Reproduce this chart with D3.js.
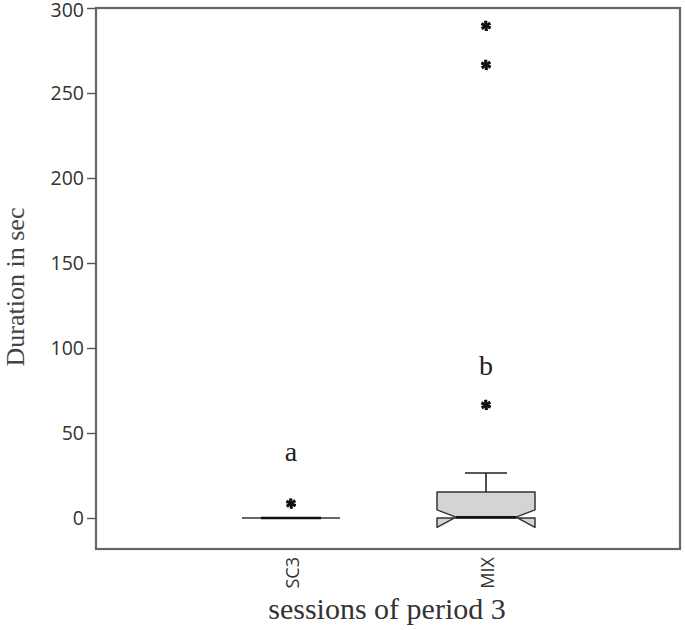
<!DOCTYPE html>
<html><head><meta charset="utf-8">
<script src="https://cdn.jsdelivr.net/npm/d3@7"></script>
<style>body{margin:0;background:#fff;}svg{display:block;}</style>
</head><body>
<svg id="c" width="685" height="630"></svg>
<script>
const categories = ["SC3", "MIX"];
const q1Values = [0, 0];
const medianValues = [0, 0.5];
const q3Values = [0, 15.3];
const whiskerLow = [0, 0];
const whiskerHigh = [0, 26.5];
const notchLow = [0, -5.5];
const notchHigh = [0, 4.8];
const outliers = [[8.5], [289.5, 266.5, 66.5]];
const groupLetters = ["a", "b"];
const letterValues = [38, 89];
const yTicks = [0, 50, 100, 150, 200, 250, 300];

const svg = d3.select("#c");
const L = 96, R = 680, T = 8, B = 549;
const y = d3.scaleLinear().domain([0, 300]).range([518, 8]);
const x = d3.scalePoint().domain(categories).range([291, 486]);
const boxW = 98, notchW = 60;

// frame
svg.append("rect").attr("x", L).attr("y", T).attr("width", R - L).attr("height", B - T)
  .attr("fill", "none").attr("stroke", "#666").attr("stroke-width", 2.2);

// y axis
const ya = svg.append("g").attr("transform", `translate(${L},0)`)
  .call(d3.axisLeft(y).tickValues(yTicks).tickSize(9).tickPadding(3));
ya.select(".domain").remove();
ya.selectAll("line").attr("stroke", "#555").attr("stroke-width", 1.4);
ya.selectAll("text").attr("font-family", "Open Sans, sans-serif").attr("font-size", 19.5).attr("fill", "#333")
  .attr("dy", (d) => d === 300 ? "0.44em" : "0.34em");

// x tick labels
categories.forEach((c) => {
  svg.append("text").attr("transform", `translate(${x(c) + 2},557) rotate(-90)`)
    .attr("text-anchor", "end").attr("dy", "0.35em")
    .attr("font-family", "Open Sans, sans-serif").attr("font-size", 18).attr("fill", "#333").text(c);
});

// axis titles
svg.append("text").attr("x", 387).attr("y", 619).attr("text-anchor", "middle")
  .attr("font-family", "Liberation Serif, serif").attr("font-size", 30).attr("fill", "#333")
  .text("sessions of period 3");
svg.append("text").attr("transform", "translate(24,287) rotate(-90)").attr("text-anchor", "middle")
  .attr("font-family", "Liberation Serif, serif").attr("font-size", 26).attr("fill", "#444")
  .text("Duration in sec");

// boxes
categories.forEach((c, i) => {
  const cx = x(c), l = cx - boxW / 2, r = cx + boxW / 2, nl = cx - notchW / 2, nr = cx + notchW / 2;
  const g = svg.append("g");
  if (whiskerHigh[i] > q3Values[i]) {
    g.append("line").attr("x1", cx).attr("x2", cx).attr("y1", y(q3Values[i])).attr("y2", y(whiskerHigh[i]))
      .attr("stroke", "#222").attr("stroke-width", 1.6);
    g.append("line").attr("x1", cx - 21).attr("x2", cx + 21).attr("y1", y(whiskerHigh[i])).attr("y2", y(whiskerHigh[i]))
      .attr("stroke", "#222").attr("stroke-width", 1.6);
  }
  if (q3Values[i] > q1Values[i]) {
    const pts = [[l, y(q3Values[i])], [r, y(q3Values[i])], [r, y(notchHigh[i])], [nr, y(medianValues[i])],
      [r, y(notchLow[i])], [r, y(q1Values[i])], [l, y(q1Values[i])], [l, y(notchLow[i])],
      [nl, y(medianValues[i])], [l, y(notchHigh[i])]];
    g.append("path").attr("d", "M" + pts.join("L") + "Z").attr("fill", "#d4d4d4")
      .attr("fill-rule", "nonzero").attr("stroke", "#333").attr("stroke-width", 1.5).attr("stroke-linejoin", "round");
    g.append("line").attr("x1", nl).attr("x2", nr).attr("y1", y(medianValues[i])).attr("y2", y(medianValues[i]))
      .attr("stroke", "#111").attr("stroke-width", 2.5);
  } else {
    g.append("line").attr("x1", l).attr("x2", r).attr("y1", y(q1Values[i])).attr("y2", y(q1Values[i]))
      .attr("stroke", "#333").attr("stroke-width", 1.6);
    g.append("line").attr("x1", nl).attr("x2", nr).attr("y1", y(medianValues[i])).attr("y2", y(medianValues[i]))
      .attr("stroke", "#111").attr("stroke-width", 2.6);
  }
  outliers[i].forEach(v => {
    g.append("path").attr("d", d3.symbol(d3.symbolAsterisk, 75)())
      .attr("transform", `translate(${cx},${y(v)})`).attr("stroke", "#111").attr("stroke-width", 2.6).attr("fill", "none");
    g.append("path").attr("d", d3.symbol(d3.symbolAsterisk, 75)())
      .attr("transform", `translate(${cx},${y(v)}) rotate(45)`).attr("stroke", "#111").attr("stroke-width", 1.6).attr("fill", "none");
  });
  svg.append("text").attr("x", cx).attr("y", y(letterValues[i]) + 8).attr("text-anchor", "middle")
    .attr("font-family", "Liberation Serif, serif").attr("font-size", 28).attr("fill", "#222").text(groupLetters[i]);
});
</script>
</body></html>
